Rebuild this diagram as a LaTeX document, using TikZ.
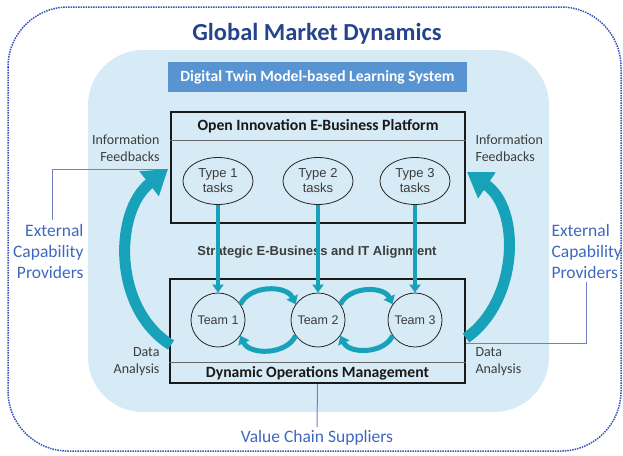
\documentclass[tikz,border=0pt]{standalone}
\usepackage{fontspec}
\setmainfont{Carlito}
\newfontfamily\arialfont{Liberation Sans}
\usepackage{tikz}
\usetikzlibrary{arrows.meta, shapes.geometric}
\usepackage{xcolor}

\definecolor{dotblue}{RGB}{55,85,185}
\definecolor{bgblue}{RGB}{214,235,245}
\definecolor{tagblue}{RGB}{88,148,210}
\definecolor{tealc}{RGB}{24,162,186}
\definecolor{titleblue}{RGB}{38,68,140}
\definecolor{extblue}{RGB}{62,104,192}
\definecolor{linkblue}{RGB}{112,128,192}
\definecolor{txtgray}{RGB}{60,60,60}

\begin{document}
\begin{tikzpicture}[x=1pt, y=1pt,
  panel/.style={draw=black!90, line width=2.2pt, fill=bgblue},
  sepline/.style={draw=black!60, line width=0.7pt},
  head/.style={font=\bfseries\fontsize{15.7}{17}\selectfont, text=black!90},
  tasks/.style={ellipse, draw=black!85, line width=0.8pt, minimum width=70pt, minimum height=47pt, inner sep=0pt, align=center, font=\arialfont\fontsize{13}{15}\selectfont, text=txtgray},
  team/.style={circle, draw=black!85, line width=0.8pt, minimum size=54pt, inner sep=0pt, font=\arialfont\fontsize{12.5}{14}\selectfont, text=txtgray},
  drop/.style={draw=tealc, line width=3.5pt, -{Triangle[length=8pt,width=11pt]}},
  cyc/.style={draw=tealc, line width=5pt, -{Triangle[length=8pt,width=12pt]}},
  bigarrow/.style={draw=tealc, line width=11pt, -{Triangle[length=24pt,width=30pt]}},
  side/.style={font=\fontsize{14}{17}\selectfont, text=txtgray},
  ext/.style={font=\fontsize{17.5}{21}\selectfont, text=extblue},
  link/.style={draw=linkblue, line width=1pt}]

  \useasboundingbox (0,0) rectangle (623,-455);

  % Frames
  \draw[dotblue, densely dotted, line width=1.5pt, rounded corners=60pt] (8,-7) rectangle (621,-451);
  \fill[bgblue, rounded corners=55pt] (88,-50) rectangle (549,-412);

  % Nodes
  \node[font=\bfseries\fontsize{24.5}{26}\selectfont, text=titleblue] (title) at (317,-34) {Global Market Dynamics};
  \node[fill=tagblue, text=white, minimum width=299pt, minimum height=30pt, font=\bfseries\fontsize{15.6}{17}\selectfont] (dtwin) at (317.5,-77) {Digital Twin Model-based Learning System};

  \node[panel, minimum width=294pt, minimum height=111pt] (plat) at (318,-167.5) {};
  \node[panel, minimum width=295pt, minimum height=104pt] (ops) at (317.5,-331) {};
  \draw[sepline] ([yshift=-29pt]plat.north west) -- ([yshift=-29pt]plat.north east);
  \draw[sepline] ([yshift=22pt]ops.south west) -- ([yshift=22pt]ops.south east);
  \node[head] (plathead) at ([yshift=-15pt]plat.north) {Open Innovation E-Business Platform};
  \node[head] (opshead) at ([yshift=11pt]ops.south) {Dynamic Operations Management};

  \node[tasks] (type1) at (218,-181) {Type 1\\tasks};
  \node[tasks] (type2) at (318,-181) {Type 2\\tasks};
  \node[tasks] (type3) at (415,-181) {Type 3\\tasks};
  \node[team] (team1) at (218,-320) {Team 1};
  \node[team] (team2) at (318,-320) {Team 2};
  \node[team] (team3) at (415,-320) {Team 3};

  \node[font=\arialfont\bfseries\fontsize{13}{15}\selectfont, text=txtgray] (align) at (317,-252) {Strategic E-Business and IT Alignment};

  \node[side, anchor=east, align=right] (infoL) at (163,-148) {Information\\Feedbacks};
  \node[side, anchor=west, align=left] (infoR) at (472,-148) {Information\\Feedbacks};
  \node[side, anchor=east, align=right] (dataL) at (163,-361.5) {Data\\Analysis};
  \node[side, anchor=west, align=left] (dataR) at (472,-361.5) {Data\\Analysis};

  \node[ext, anchor=east, align=right] (extL) at (87,-251) {External\\Capability\\Providers};
  \node[ext, anchor=west, align=left] (extR) at (548,-251) {External\\Capability\\Providers};
  \node[ext] (vcs) at (317,-438) {Value Chain Suppliers};

  \coordinate (lstart) at (171,-345);
  \coordinate (ltip) at (168,-169);
  \coordinate (rstart) at (466,-338);
  \coordinate (rtip) at (467,-172);

  % Thin links to the outside
  \draw[link] ([xshift=4pt]extL.north) |- (ltip);
  \draw[link] (extR.south) |- ([yshift=-5pt]rstart);
  \draw[link] (ops.south) -- (vcs.north);

  % Feedback loops
  \draw[bigarrow] (lstart) to[out=148, in=218] (ltip);
  \draw[bigarrow] (rstart) to[out=35, in=-34] (rtip);

  % Tasks down to teams
  \foreach \x in {1,2,3}
  {
    \draw[drop] (type\x) -- (team\x);
  }

  % Cycles between teams
  \draw[cyc] (team1.35) to[out=65, in=115] (team2.145);
  \draw[cyc] (team2.-145) to[out=-115, in=-65] (team1.-35);
  \draw[cyc] (team2.35) to[out=65, in=115] (team3.145);
  \draw[cyc] (team3.-145) to[out=-115, in=-65] (team2.-35);
\end{tikzpicture}
\end{document}
